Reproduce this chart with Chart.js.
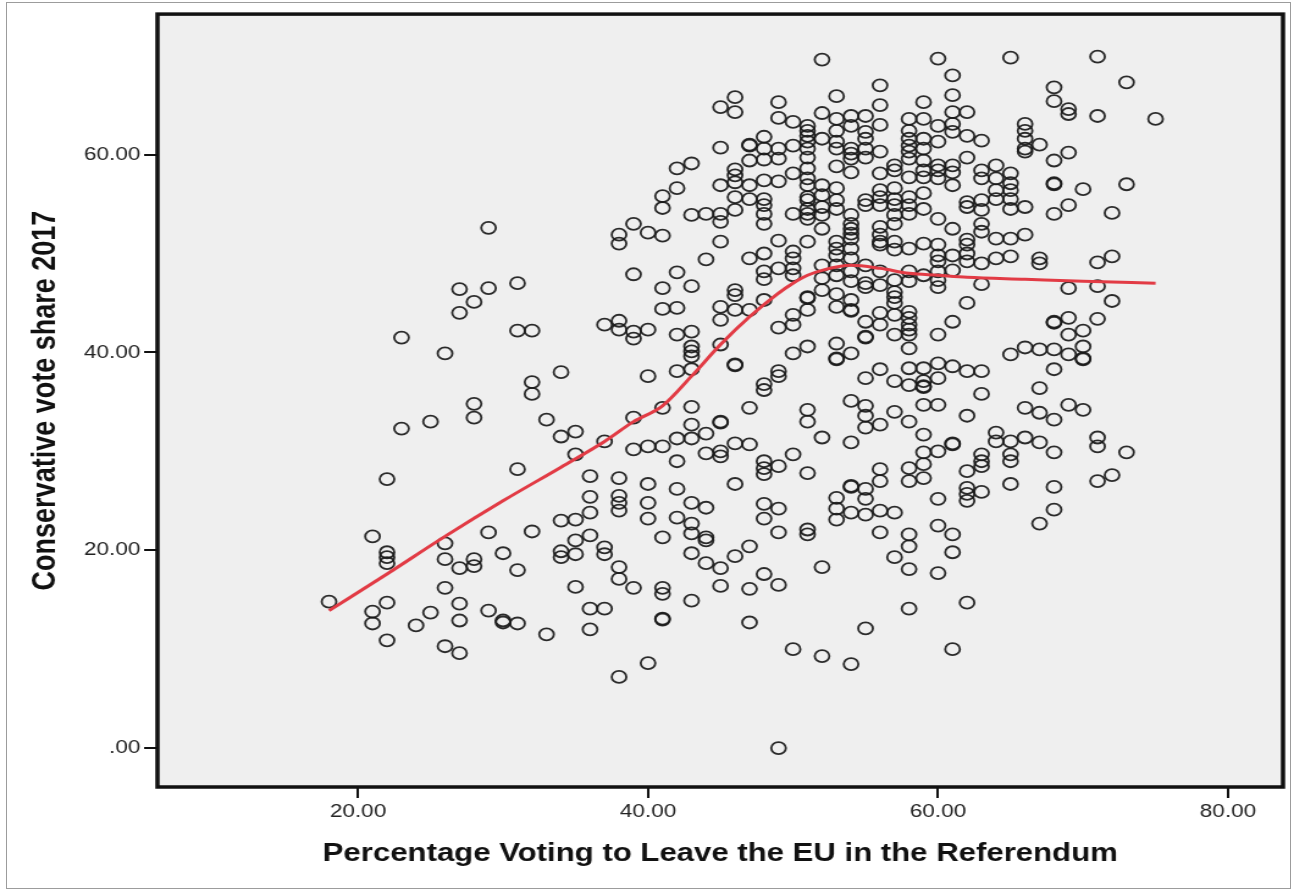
<!DOCTYPE html>
<html>
<head>
<meta charset="utf-8">
<title>Leave vote vs Conservative share</title>
<script src="https://cdn.jsdelivr.net/npm/chart.js@4.4.1/dist/chart.umd.min.js"></script>
<style>
  html, body { margin: 0; padding: 0; background: #fff; }
  #page { position: relative; width: 1294px; height: 890px; overflow: hidden; }
  /* the source picture is stretched sideways, so the chart is drawn narrow and widened */
  #stretch { position: absolute; left: 0; top: 0; width: 1060px; height: 890px;
             transform: scaleX(1.22075); transform-origin: 0 0; }
  #frame { position: absolute; left: 6px; top: 2px; width: 1285px; height: 887px;
           border: 1px solid #9c9c9c; box-sizing: border-box; pointer-events: none; }
  canvas { display: block; }
</style>
</head>
<body>
<div id="page">
  <div id="stretch"><canvas id="scatterChart" width="1060" height="890"></canvas></div>
  <div id="frame"></div>
</div>
<script>
// x = % Leave (whole numbers), one list of Conservative shares per x value
const leaveColumns = [18, 21, 22, 23, 24, 25, 26, 27, 28, 29, 30, 31, 32, 33, 34, 35, 36, 37, 38, 39,
  40, 41, 42, 43, 44, 45, 46, 47, 48, 49, 50, 51, 52, 53, 54, 55, 56, 57, 58, 59,
  60, 61, 62, 63, 64, 65, 66, 67, 68, 69, 70, 71, 72, 73, 75];

const conservativeShares = [
  [14.8],
  [21.4, 13.8, 12.6],
  [27.2, 19.8, 19.3, 18.7, 14.7, 10.9],
  [41.5, 32.3],
  [12.4],
  [33.0, 13.7],
  [39.9, 20.7, 19.1, 16.2, 10.3],
  [46.4, 44.0, 18.2, 14.6, 12.9, 9.6],
  [45.1, 34.8, 33.4, 19.1, 18.4],
  [52.6, 46.5, 21.8, 13.9],
  [19.7, 12.9, 12.7],
  [47.0, 42.2, 28.2, 18.0, 12.6],
  [42.2, 37.0, 35.8, 21.9],
  [33.2, 11.5],
  [38.0, 31.5, 23.0, 19.9, 19.3],
  [32.0, 29.7, 23.1, 21.0, 19.6, 16.3],
  [27.5, 25.4, 23.8, 21.5, 14.1, 12.0],
  [42.8, 31.0, 20.3, 19.6, 14.1],
  [51.9, 51.0, 43.2, 42.3, 27.3, 25.5, 24.8, 24.0, 18.3, 17.1, 7.2],
  [53.0, 47.9, 42.1, 41.4, 33.4, 30.2, 16.2],
  [52.1, 42.3, 37.6, 30.5, 26.7, 24.8, 23.2, 8.6],
  [55.8, 54.6, 51.8, 46.5, 44.4, 34.4, 30.5, 21.3, 16.2, 15.6, 13.1, 13.0],
  [58.6, 56.6, 48.1, 44.5, 41.8, 38.1, 31.3, 29.0, 26.2, 23.3],
  [59.1, 53.9, 46.7, 42.1, 40.6, 40.1, 39.6, 38.3, 34.5, 32.7, 31.3, 24.8, 22.7, 21.7, 19.7, 14.9],
  [54.0, 49.4, 31.8, 29.8, 24.3, 21.3, 21.0, 18.7],
  [64.8, 60.7, 56.9, 54.0, 53.2, 51.2, 44.6, 43.3, 40.8, 33.0, 32.9, 30.0, 29.5, 18.2, 16.4],
  [65.8, 64.3, 58.5, 57.9, 57.2, 55.7, 54.4, 46.3, 45.8, 44.3, 38.8, 38.7, 30.8, 26.7, 19.4],
  [61.0, 60.9, 59.4, 56.9, 55.5, 49.5, 44.3, 34.4, 30.7, 20.4, 16.1, 12.7],
  [61.8, 60.6, 59.5, 57.4, 55.5, 54.9, 54.0, 53.0, 50.0, 48.2, 47.4, 45.3, 36.8, 36.2, 29.0, 28.3, 27.7, 24.7, 23.2, 17.6],
  [65.3, 63.7, 60.6, 59.6, 57.3, 51.3, 48.5, 42.5, 38.1, 37.6, 28.5, 24.2, 21.8, 16.5, 0.0],
  [63.3, 60.9, 58.1, 54.0, 50.2, 49.5, 48.5, 47.8, 43.8, 42.8, 39.9, 29.7, 10.0],
  [62.9, 62.4, 61.9, 61.3, 60.6, 59.7, 58.6, 57.6, 56.9, 55.7, 55.4, 54.5, 54.0, 53.5, 51.2, 45.6, 45.5, 44.3, 40.6, 34.2, 33.0, 27.8, 22.1, 21.6],
  [69.6, 64.2, 61.6, 56.9, 55.9, 54.7, 53.9, 52.5, 48.8, 47.5, 46.3, 31.4, 18.3, 9.3],
  [65.9, 63.6, 62.4, 61.3, 60.6, 58.8, 56.6, 55.4, 54.5, 51.2, 50.5, 49.8, 48.8, 47.8, 45.9, 44.6, 40.9, 39.4, 39.3, 25.3, 24.2, 23.1],
  [63.9, 62.9, 60.6, 60.1, 59.6, 58.2, 53.9, 53.0, 52.5, 52.0, 51.5, 50.5, 49.5, 48.2, 47.2, 45.3, 44.3, 44.2, 39.9, 35.1, 30.9, 26.5, 26.4, 23.8, 8.5],
  [63.9, 62.3, 61.6, 60.6, 59.7, 55.4, 54.9, 48.8, 47.0, 46.6, 43.1, 41.6, 41.5, 37.4, 34.6, 33.6, 32.4, 26.2, 25.2, 23.6, 12.1],
  [67.0, 65.0, 63.0, 60.3, 58.1, 56.4, 55.7, 54.9, 52.7, 51.9, 51.2, 50.9, 48.2, 46.8, 44.0, 42.8, 38.3, 32.7, 28.2, 27.0, 24.0, 21.8],
  [58.9, 58.4, 56.6, 55.5, 54.9, 53.9, 53.0, 51.2, 50.4, 47.3, 46.1, 45.6, 45.0, 43.8, 41.8, 37.1, 34.0, 23.8, 19.3],
  [63.6, 62.4, 61.6, 60.9, 60.3, 59.6, 57.7, 55.7, 54.9, 54.0, 50.5, 48.2, 47.2, 44.1, 43.5, 42.8, 42.3, 41.8, 40.4, 38.4, 36.7, 33.0, 28.3, 27.0, 21.6, 20.4, 18.1, 14.1],
  [65.3, 63.6, 61.6, 60.6, 59.4, 58.4, 57.7, 56.1, 54.5, 51.0, 47.8, 38.4, 37.1, 36.6, 36.5, 34.7, 31.7, 29.9, 28.7, 27.3],
  [69.7, 62.9, 61.3, 58.9, 58.4, 57.6, 53.5, 50.9, 49.8, 49.2, 48.2, 47.3, 46.6, 41.8, 38.9, 37.4, 34.7, 30.0, 25.2, 22.5, 17.7],
  [68.0, 66.0, 64.3, 63.1, 62.3, 58.9, 58.2, 56.9, 52.5, 49.8, 48.3, 43.1, 38.6, 30.8, 30.7, 21.6, 19.8, 10.0],
  [64.3, 61.9, 59.7, 55.2, 54.7, 51.4, 50.9, 50.0, 49.2, 45.0, 38.1, 33.6, 28.0, 26.3, 25.7, 25.0, 14.7],
  [61.4, 58.4, 57.6, 55.4, 54.4, 53.0, 52.2, 49.0, 46.9, 38.1, 35.8, 29.7, 29.0, 28.5, 25.9],
  [58.9, 57.6, 56.4, 55.5, 51.5, 49.5, 31.9, 31.0],
  [69.8, 58.1, 57.1, 56.4, 55.5, 54.5, 51.5, 49.7, 39.8, 31.0, 29.7, 29.0, 26.7],
  [63.1, 62.4, 61.6, 60.6, 60.3, 54.7, 51.9, 40.5, 34.4, 31.4],
  [61.0, 49.5, 49.0, 40.3, 36.4, 33.9, 30.9, 22.7],
  [66.8, 65.4, 59.4, 57.1, 57.0, 54.0, 43.1, 43.0, 40.3, 38.3, 33.2, 29.9, 26.4, 24.1],
  [64.6, 64.1, 60.2, 54.9, 46.5, 43.5, 41.8, 39.8, 34.7],
  [56.5, 42.2, 40.6, 39.4, 39.3, 34.2],
  [69.9, 63.9, 49.1, 46.7, 43.4, 31.4, 30.5, 27.0],
  [54.1, 49.7, 45.2, 27.6],
  [67.3, 57.0, 29.9],
  [63.6]
];

// fitted (loess) line
const fitLeave = [18, 22, 26, 30, 34, 37, 39, 41, 43, 45, 47, 49, 50, 51, 52, 54, 56, 58, 60, 62, 66, 70, 75];
const fitShare = [13.9, 17.6, 21.4, 25.0, 28.4, 31.0, 33.0, 34.6, 37.6, 40.8, 43.6, 46.0, 47.0, 47.8, 48.3, 48.8, 48.5, 48.0, 47.8, 47.6, 47.4, 47.2, 47.0];

const xTicks = [20, 40, 60, 80];
const yTicks = [0, 20, 40, 60];

const xTitle = 'Percentage Voting to Leave the EU in the Referendum';
const yTitle = 'Conservative vote share 2017';

function formatTick(value) {
  // SPSS writes zero as ".00"
  if (value === 0) {
    return '.00';
  }
  return value.toFixed(2);
}

const points = [];
leaveColumns.forEach((x, i) => {
  conservativeShares[i].forEach(y => points.push({ x: x, y: y }));
});

const fitPoints = fitLeave.map((x, i) => ({ x: x, y: fitShare[i] }));

// grey plot background and the heavy black box
const plotFrame = {
  id: 'plotFrame',
  beforeDraw(chart) {
    const { ctx, chartArea: a } = chart;
    ctx.save();
    ctx.fillStyle = '#efefef';
    ctx.fillRect(a.left, a.top, a.right - a.left, a.bottom - a.top);
    ctx.restore();
  },
  afterDraw(chart) {
    const { ctx, chartArea: a } = chart;
    ctx.save();
    ctx.strokeStyle = '#111';
    ctx.lineWidth = 3.5;
    ctx.strokeRect(a.left, a.top, a.right - a.left, a.bottom - a.top);
    ctx.restore();
  }
};

const tickFont = { family: '"Liberation Sans", Arial, sans-serif', size: 18.5 };
const titleFont = { family: '"Liberation Sans", Arial, sans-serif', weight: 'bold' };

const ctx = document.getElementById('scatterChart').getContext('2d');
const leaveChart = new Chart(ctx, {
  type: 'scatter',
  data: {
    datasets: [
      {
        type: 'line',
        label: 'Fit',
        data: fitPoints,
        borderColor: '#e23b45',
        borderWidth: 3,
        pointRadius: 0,
        fill: false,
        cubicInterpolationMode: 'monotone',
        order: 0
      },
      {
        label: 'Constituencies',
        data: points,
        pointStyle: 'circle',
        pointRadius: 6,
        pointBorderWidth: 1.8,
        borderColor: 'rgba(25, 25, 25, 0.92)',
        backgroundColor: 'rgba(0, 0, 0, 0)',
        order: 1
      }
    ]
  },
  options: {
    responsive: false,
    animation: false,
    devicePixelRatio: 1,
    layout: { padding: { left: 0, right: 9, top: 12, bottom: 0 } },
    plugins: {
      legend: { display: false },
      tooltip: { enabled: false }
    },
    scales: {
      x: {
        type: 'linear',
        min: 6.17,
        max: 83.79,
        afterBuildTicks: scale => { scale.ticks = xTicks.map(v => ({ value: v })); },
        afterFit: scale => { scale.height = 103; },
        ticks: {
          autoSkip: false,
          maxRotation: 0,
          padding: 3,
          color: '#222',
          font: tickFont,
          callback: formatTick
        },
        grid: { drawOnChartArea: false, drawTicks: true, tickLength: 11, color: '#111', lineWidth: 2 },
        border: { display: false },
        title: {
          display: true,
          text: xTitle,
          color: '#111',
          font: Object.assign({ size: 25.5 }, titleFont),
          padding: { top: 0, bottom: 21 }
        }
      },
      y: {
        type: 'linear',
        min: -3.93,
        max: 74.2,
        afterBuildTicks: scale => { scale.ticks = yTicks.map(v => ({ value: v })); },
        afterFit: scale => { scale.width = 129; },
        ticks: {
          autoSkip: false,
          padding: 3,
          color: '#222',
          font: tickFont,
          callback: formatTick
        },
        grid: { drawOnChartArea: false, drawTicks: true, tickLength: 11, color: '#111', lineWidth: 2 },
        border: { display: false },
        title: {
          display: true,
          text: yTitle,
          color: '#111',
          font: Object.assign({ size: 27 }, titleFont),
          padding: { top: 21, bottom: 0 }
        }
      }
    }
  },
  plugins: [plotFrame]
});
</script>
</body>
</html>
